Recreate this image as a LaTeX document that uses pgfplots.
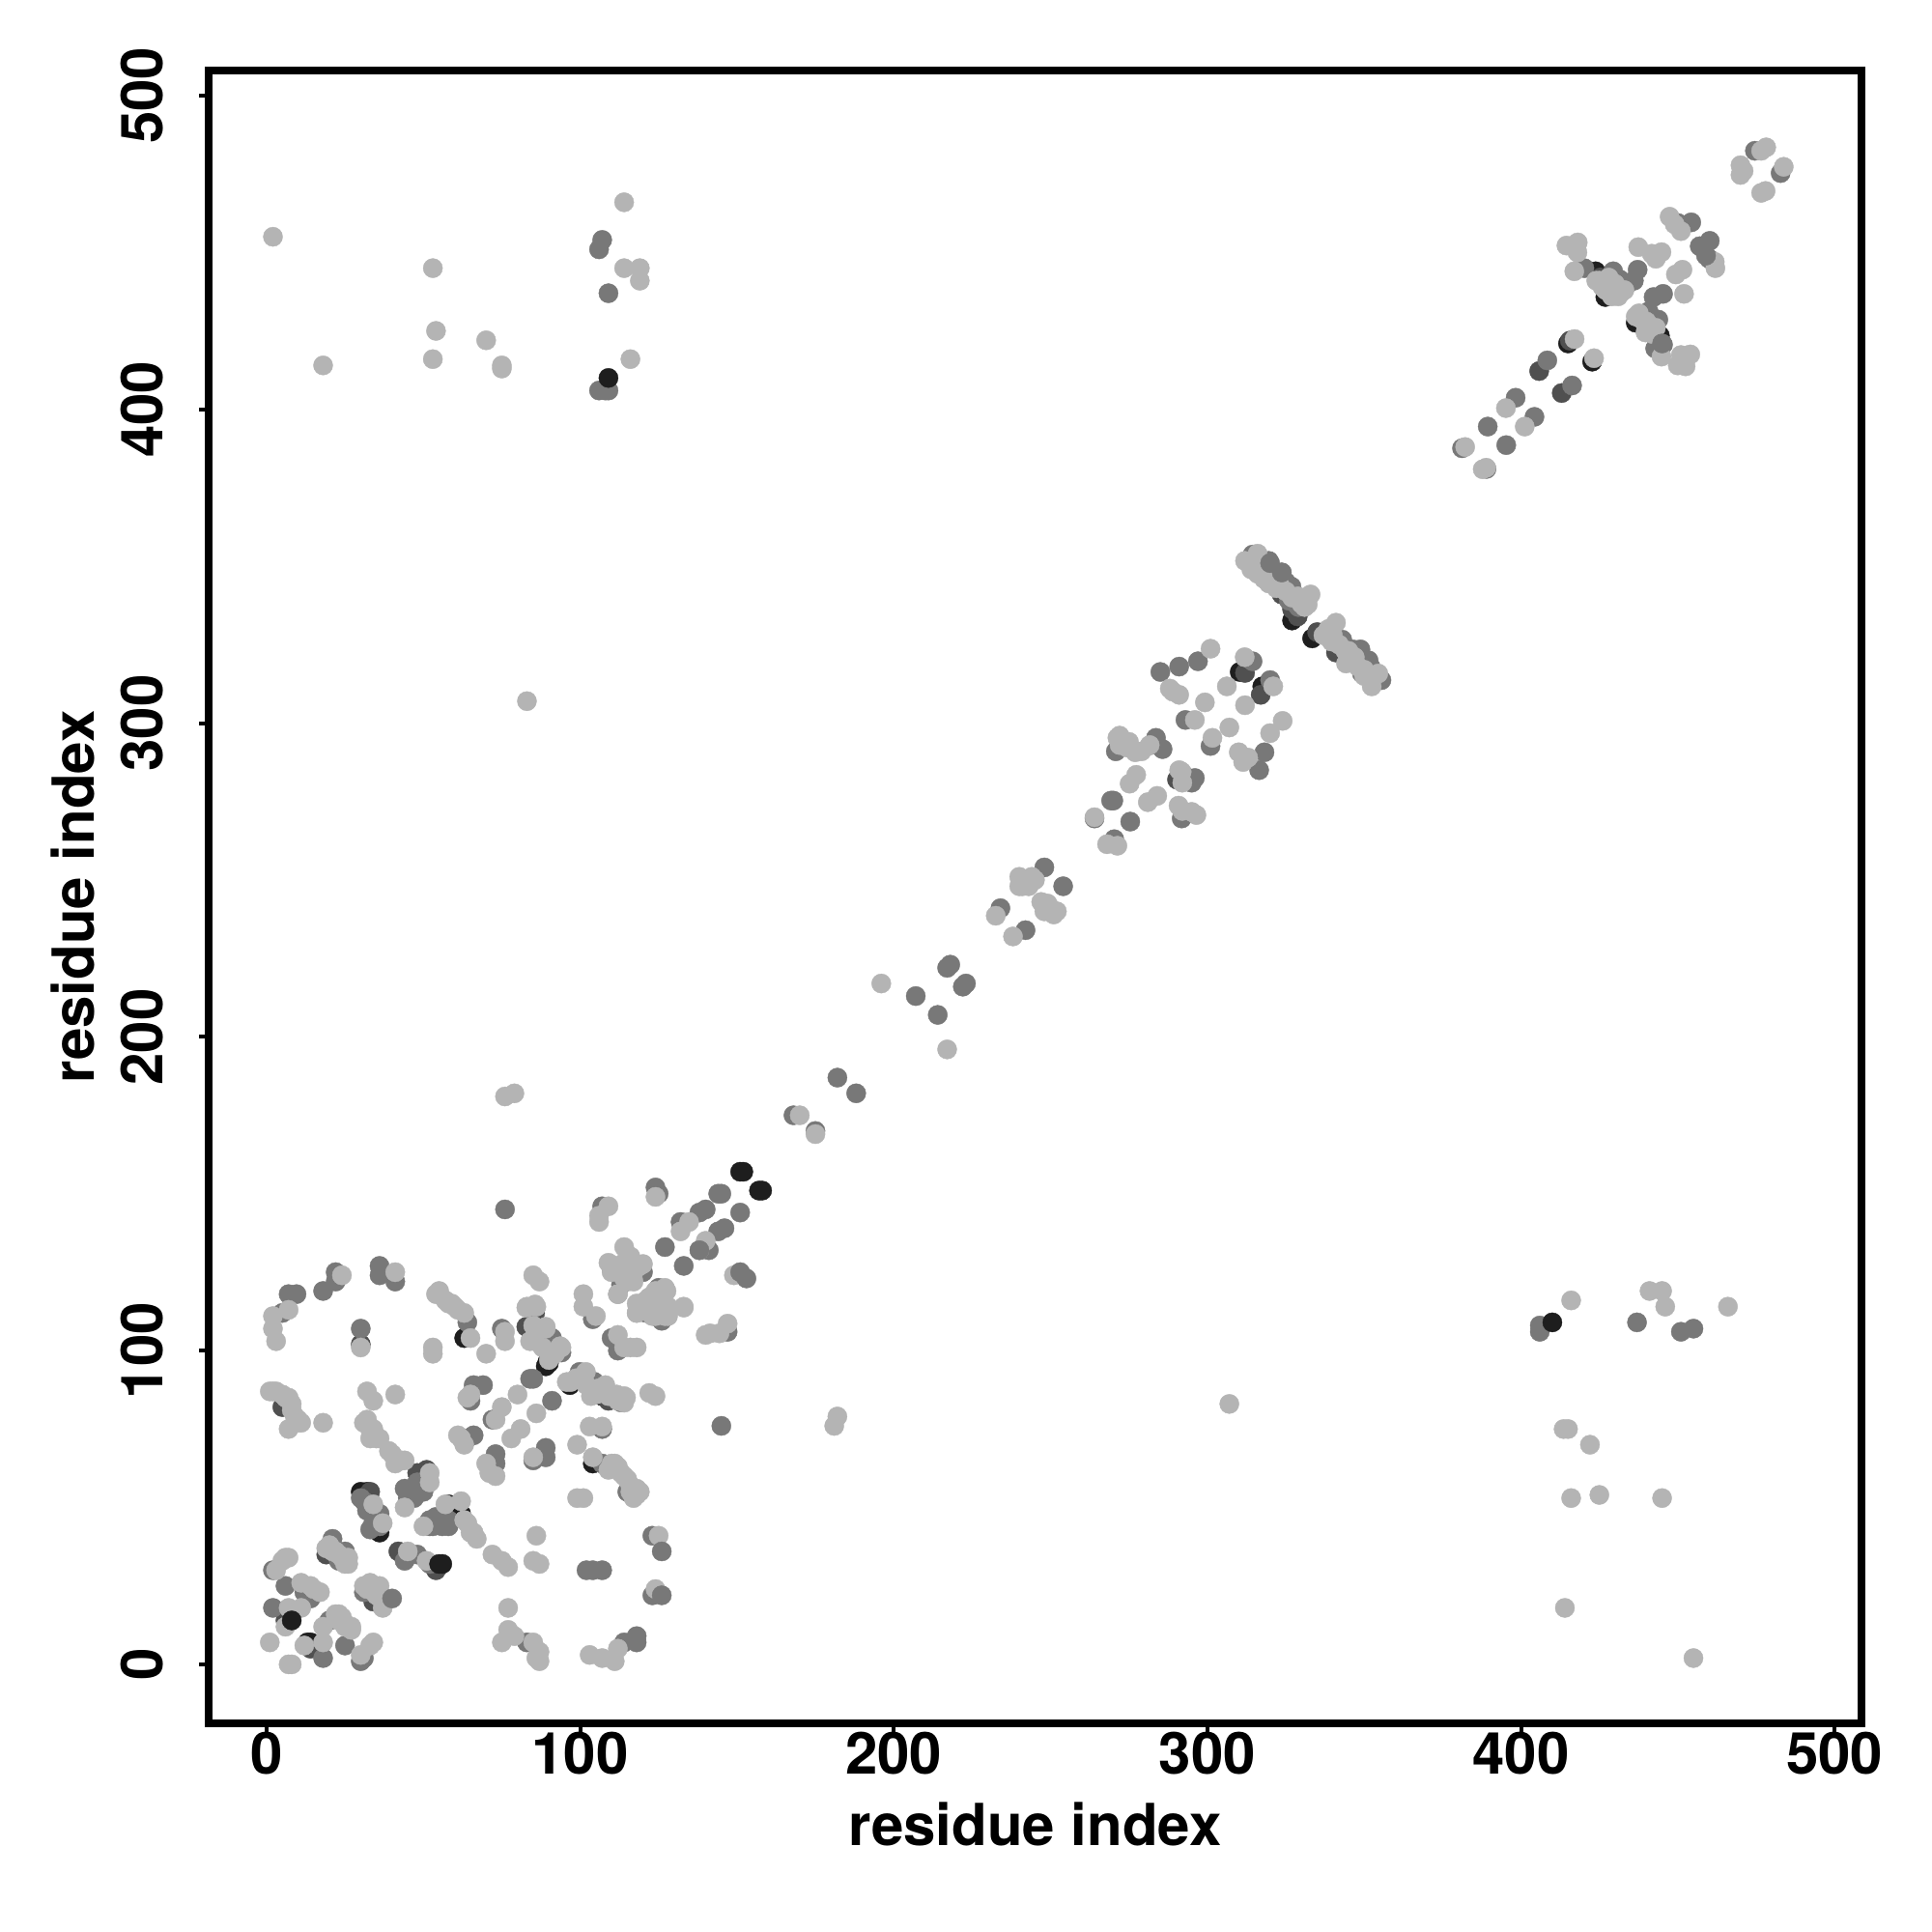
\documentclass[border=0pt]{standalone}
\usepackage{fontspec}
\setmainfont{TeX Gyre Heros}
\usepackage{pgfplots}
\pgfplotsset{compat=1.18}
\definecolor{cl}{HTML}{B4B4B4}
\definecolor{cm}{HTML}{787878}
\definecolor{cd}{HTML}{505050}
\definecolor{ck}{HTML}{1E1E1E}
\pgfplotsset{dot/.style={color=#1,mark=*,mark size=2.5pt,mark options={solid,draw=#1,fill=#1,line width=0.1pt}}}
\begin{document}
\begin{tikzpicture}[x=1pt,y=1pt]
\path[use as bounding box] (0,0) rectangle (500,500);
\begin{axis}[
  at={(54pt,54pt)},anchor=south west,
  scale only axis,width=427.75pt,height=427.75pt,
  xmin=-18.5,xmax=508.6,ymin=-18.8,ymax=508.0,
  axis line style={line width=1.8pt},
  tick align=outside,tick pos=left,major tick length=2.4pt,
  tick style={line width=1pt,black},
  xtick={0,100,200,300,400,500},ytick={0,100,200,300,400,500},
  /pgf/number format/assume math mode=true,
  tick label style={font=\fontsize{15}{18}\selectfont\bfseries,inner sep=0pt},
  xticklabel style={anchor=center,yshift=-5.25pt},
  yticklabel style={rotate=90,anchor=center,yshift=14.75pt},
  xlabel={residue index},ylabel={residue index},
  label style={font=\fontsize{15}{18}\selectfont\bfseries,inner sep=0pt},
  xlabel style={at={(axis description cs:0.5,0)},anchor=center,yshift=-26.15pt},
  ylabel style={at={(axis description cs:0,0.5)},anchor=center,rotate=0,yshift=35.25pt},
  only marks,
]
% bottom: black and dark
\addplot[dot=ck] coordinates {
(13,7)(14,7)(31,54)(30,55)(32,55)(36,42)(48,56)(57,47)(58,51)(62,48)(63,104)(86,108)(90,96)(104,64)
(107,85.5)(96.7,89)(85.4,107.6)(89.5,96.3)(89,95)
(310.3,316.3)(317.5,311.7)(327,332.7)(333.4,327)(423.8,444)(426.9,435.8)(422.7,415.2)(436.6,427.6)(444.3,423.5)(415,421)
};
\addplot[dot=cd] coordinates {
(6,14)(14,5)(19,35)(34,20)(33,55)(42,36)(48,61)(54,30)(5,82)(30,102)(120,114)
(50,61)(51,62)(47,55)(49,57)(104.4,89)(82.8,107.6)(85.6,112)(109,84)
(290.3,282)(312,316)(317,309)(323.7,341)(327,336.3)(328.8,334)(335,329)(341,322.5)
(405.8,412.2)(413,405.2)(415.6,421.9)(425.3,442)
};
% medium
\addplot[dot=cm] coordinates {
(2,18)(6,25)(14,21)(12,23)(2,30)(18,2)(25,6)(30,1)(31,2)(20,14)(31,23)(21,40)(25,36)(23,33)
(30,53)(32,49)(36,48)(33,43)(44,33)(48,35)(52,32)(44,56)(45,53)(47,53)(54,47)(56,44)(52,44)(58,44)
(31,52)(33,50)(35,48)(34,45)(36,44)(52,46)(54,45)(56,46)(58,46)(53,44)(50,55)(48,58)
(5,112)(7,118)(9.5,118)(18,119)(22,125)(22,122)(36,127)(36,124)(41,122)(30,107)
(64,109)(75,107)(91,104)(84,91)(85,91)(91,84)(66,89)(69,89)(65,84)(66,73)(64,72)(72,78)
(73,67)(73,64)(89,69)(89,66)(85,65)(107,64)(115,55)(123,41)(102,30)(107,30)(104,30)
(123,22)(118,9)(118,7)(114,7)(83,7)(104,110)(110,104)(112,100)(113,121)(110,126)(125,120)
(99.8,93.2)(104.4,90.1)(113,83.5)(121,113.7)(126,109.5)(125,118)(121,112)(94,99.4)
(76,145)(107,146)(107,75)(124,152)(125,150)(127,133)(132,141)(138,144)(140,145)
(144,150)(151,144)(146,139)(144,138)(141,132)(147,106)(145,76)(120,125)(133,127)
(106,451)(107,454)(109,437)(106,406)(109,406)(108,406)
(406,106)(406,108)(437,109)(451,106)(455,107)
(168,175)(175,170)(182,187)(188,182)(207,213)(214,207)(217,222)(218,223)(223,217)(222,216)
(234,241)(242,234)(248,254)(254,248)
(314.4,353.7)(319.6,351.7)(323.7,348)(326.8,343.5)(343,326.6)(346.3,323.5)(348.8,323.5)(349.3,315.8)(351.4,320)(355.5,313.7)
(325,345)(326,339)(329,337)(345,320)(348,322)(352,318)
(297,319.7)(291,318)(285,316.3)(314.4,319.7)(320,313.7)(293,301)(301,292.7)(318.2,290.7)(316.5,285)
(283.6,295.3)(285.7,291.7)(282,293)(284,293)(270.8,291)(269.3,275.3)(270,275.3)(275.4,268.6)(264,269.6)(296,282.5)(295,281)(293,283)(291.8,269.6)(270.3,263)
(381.2,387.6)(389,381)(389.4,394.5)(395.3,388.6)(398.3,403.7)(404.3,397.6)(408.4,415.6)(416.3,407.6)
(420.2,445)(429.4,444)(431.5,441.4)(437.2,444.5)(436,441)(450,459.4)(454.3,459.6)(460.2,453.7)(460,448)
(445.3,436.8)(442.3,435.8)(443.8,428.6)(440.7,431.2)(445.3,420.6)(442.8,419.4)(474.6,482.4)(482.8,475.3)(434,440)(441,430)
};
% light
\addplot[dot=cl] coordinates {
(1,7)(7,0)(8,0)(7,18)(11,18)(6,12)(11,26)(14,25)(15,24)(17,23)(3,30)(6,34)(5,33)(7,34)
(12,6)(18,7)(33,6)(34,7)(30,3)(18,12)(23,16)(24,15)(25,13)(27,11)(22,16)(23,14)(25,12)(27,12)
(31,25)(33,26)(36,25)(37,20)(37,18)(19,37)(22,36)(26,34)(25,32)(20,38)(21,36)(23,35)(24,34)(26,32)(32,24)(35,22)
(34,51)(37,45)(45,36)(51,33)(52,61)(52,58)(44,50)(50,44)(62,52)(57,51)
(64,45)(65,42)(67,40)(63,46)(66,42)(72,35)(75,33)(77,31)(85,33)(87,32)(86,41)
(40,67)(44,65)(41,64)(39,68)(42,65)(43,65)(31,77)(33,75)(35,72)(33,72)(32,78)(34,75)(36,72)(32,87)(34,84)(41,86)
(1,87)(3,87)(7,85)(8,81)(9.5,77)(11,77)(7,75)(18,77)(2,87)(5,86)(6,85)(8,83)(9,79)(10,78)(2,111)(2,107)(3,103)(7,113)
(24,124)(41,125)(30,101)(53,101)(53,99)(54,118)(55,119)(59,115)(63,112)(55,118)(57,116)(58,115)(60,114)(61,113)(65,104)(70,99)(76,106)(76,103)
(85,124)(87,122)(83,114)(86,114)(85,108)(89,107)(84,103)(94,101)(90,97)(88,101)(92,99)(90.5,98.3)(85.4,103)(93.6,101.4)(89,107.6)(82.8,113.7)(85.6,114.7)
(95.7,90)(98.7,91.2)(97,90)(101.8,93.2)(100,91)(102,89)(108,89)(103.4,85.5)(105,86)(109,85.5)(111.6,86)(114,85.5)(114.6,85)(114,83.4)(112,84)(106,88)
(80,86)(86,80)(75,82)(73,78)(81,75)(78,72)(65,86)(64,85)(61,73)(63,70)(62,72)
(70,64)(73,60)(71,61)(85,66)(99,70)(104,66)(111,64)(114,60)(117,55)(117,53)(119,55)(109,62)(110,64)(112,63)(113,61)(115,59)(116,57)(116,55)(118,54)(118,56)
(99,53)(101,53)(125,41)(124,24)(112,5)(111,1)(107,2)(103,3)
(77,18)(77,11)(75,7)(79,9)(85,7)(87,4)(87,1)(86,2)
(101,118)(101,114)(105,111)(112,118)(112,105)(118,101)(114,101)(116,101)
(118,112)(111,127)(113,125)(115,122)(119,127)(127,120)(121,116)(124,111)(127,111)(133,114)(122,117)(125,113)(118,115)
(109,128)(110,125)(112,126)(113,127)(115,125)(116,123)(114,123)(117,122)(117,125)(122,116)(124,119)(127,119)(128,114)(126,112)(128,111)(124,113)(125,116)(123,111)
(140,105)(109,146)(106,143)(106,141)(124,149)(134.7,141)(132,138)(138,132)(140,135)(149,124)
(114,133)(111,126.5)(114,128)(116,130)(120,127.6)(112,118)(118,112)(133,113.7)(127.5,119)
(141.4,105.5)(144.4,105.5)(147,108.6)(122,86.5)(124,85.5)(103,75.8)(107,75.8)
(2,455)(18,414)(53,445)(54,425)(53,416)(70,422)(75,414)(75,413)
(114,466)(114,445)(119,445)(119,441)(116,416)(83,307)(76,181)(79,182)
(307,83)(416,116)(441,119)(445,119)(446,114)(466,114)
(413.6,75)(415,75)(422,70)(416,53)(425,54)(445,53)(414,18)(455,2)(181,76)(182,79)
(170,175)(175,169)(196,217)(217,196)
(232.5,238.6)(238,232)(240,251)(243,250)(241,248)(249,242.5)(251,239)(248,240)(245,250)(243,248)(244,251)(240,248)(247,243)(250,241)(252,240)
(312,351.7)(316,354)(315.5,350.7)(316,347.6)(319.6,344.5)(320.6,348.6)(318,346)(322,343)
(314,349)(317,351)(318,348)(321,346)(323,344)(325,342)(327,340)(330,339)(331,337)
(328.8,340.4)(332.9,341)(332,337.8)(330,338)(338.6,330)(341,332)(339.6,326)(337,328)(340,328)(342,325)(344,323)(346,320)(348,318)(350,315)(352,314)
(344.2,319)(354.5,315.8)(352.4,311.7)(347,321)(350,317)(345,323)
(301,323.7)(288,311)(291,309)(289,310)(311.9,321)(321,311.7)(306.2,311.7)(312,305.7)(299.2,306.6)(296,301)
(307,298.6)(301.6,295.3)(324,300.7)(320,296.8)(310,290.7)(311.4,287.6)(313,289)
(271.3,295.3)(274.4,292.2)(277,290.7)(281.6,293)(272,293)(275,294)(272,296)(274,294)(277,291)(279,291)
(277.3,283.5)(275.2,280.7)(284,276.8)(281,274.8)(291.8,284.5)(291,285)(292,281)(290.8,273.7)(295,271.7)(296.5,270.7)(292,272)(268,261.4)(271.3,260.9)(264,270)
(382.2,388)(388.9,381.4)(387.8,380.9)(395.2,400.4)(401.2,394.5)(417.1,422.4)(423.3,416.3)
(414.5,452.2)(418.1,453.2)(418,450)(417,444)(428.9,437.8)(432,437.3)(427,440)(424,441)(425,441)(426,439)(427,438)(429,436)(431,436)(433,438)(430,440)(428,442)
(437.4,451.7)(441.7,449.6)(444.8,450.1)(443,448)(447.4,461.4)(451,456.8)(449,459)(461.8,447)(462,445)
(451.5,444.5)(449.4,443)(452,436.8)(437.6,430.6)(436.6,429.6)(439.7,424.5)(438,429)(440,428)(443,426)(442,424)(440,426)(444.8,416.8)(451,417.3)(454,417.5)(452.5,413.7)(450,414)
(476.6,482.4)(478.2,483.5)(470,477.8)(470,474.7)(471,476)(483.8,477.3)(476.6,469)(478,469.6)
};
% top medium
\addplot[dot=cm] coordinates {
(40,21)(445,421)(126,36)(126,22)(153,123)(151,125)(145,150)(323.7,348)(320,351)(457,452)(138,132)(459,449)
};
% top black
\addplot[dot=ck] coordinates {
(8,14)(55,32)(56,32)(151,157)(152,157)(157,151)(158,151)(109,410)(410,109)
};
\end{axis}
\end{tikzpicture}
\end{document}
